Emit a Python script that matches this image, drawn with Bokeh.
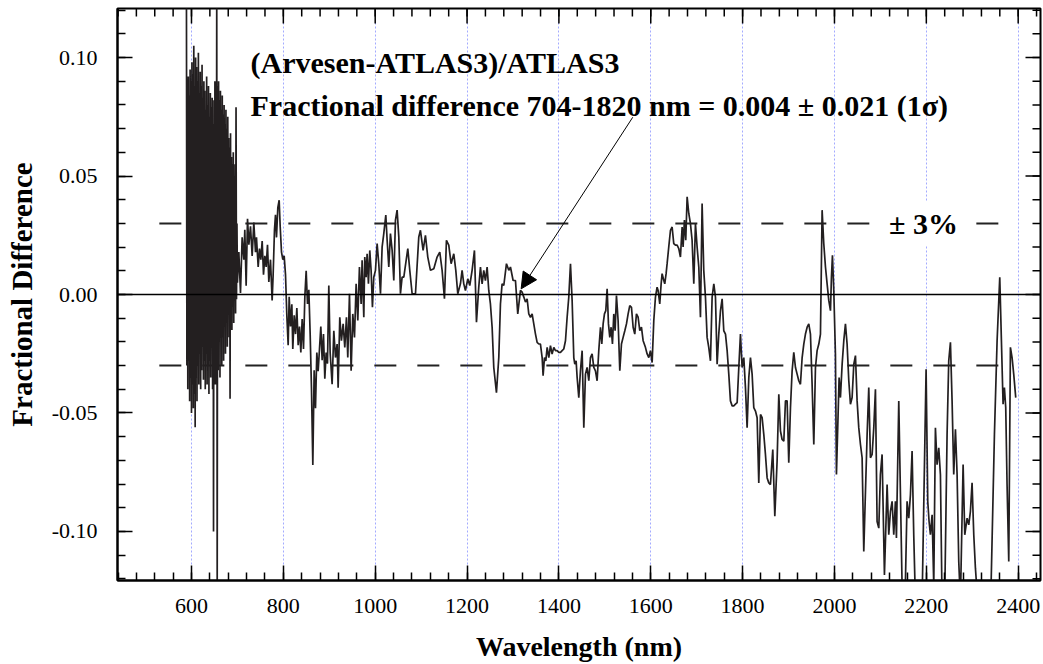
from bokeh.plotting import figure
from bokeh.models import Range1d, FixedTicker, Span, Label, Arrow, NormalHead, NumeralTickFormatter
from bokeh.embed import file_html
from bokeh.resources import INLINE

# ---------------- data ----------------
visible_wl = [589, 590, 591, 592, 593, 594, 595, 596, 597, 598, 599, 600, 601, 602, 603, 604, 605, 606, 607, 608,
              609, 610, 611, 612, 613, 614, 615, 616, 617, 618, 619, 620, 621, 622, 623, 624, 625, 626, 627, 628,
              629, 630, 631, 632, 633, 634, 635, 636, 637, 638, 639, 640, 641, 642, 643, 644, 645, 646, 647, 648,
              649, 650, 651, 652, 653, 654, 655, 656, 657, 658, 659, 660, 661, 662, 663, 664, 665, 666, 667, 668,
              669, 670, 671, 672, 673, 674, 675, 676, 677, 678, 679, 680, 681, 682, 683, 684, 685, 686, 687, 688,
              689, 690, 691, 692, 693, 694, 695, 696, 697, 698, 699, 700]
visible_fd = [0.130, -0.030, 0.088, -0.040, 0.092, -0.028, 0.084, -0.045, 0.095, -0.035, 0.090, -0.050, 0.098, -0.038,
              0.093, -0.048, 0.105, -0.042, 0.088, -0.056, 0.100, -0.035, 0.096, -0.045, 0.090, -0.030, 0.102, -0.038,
              0.085, -0.025, 0.094, -0.040, 0.088, -0.032, 0.097, -0.022, 0.083, -0.036, 0.090, -0.028, 0.086, -0.040,
              0.078, -0.025, 0.092, -0.038, 0.080, -0.030, 0.088, -0.042, 0.075, -0.028, 0.085, -0.035, 0.079, -0.022,
              0.083, -0.040, 0.072, -0.100, 0.082, -0.030, 0.090, -0.038, 0.078, -0.025, 0.130, -0.130, 0.088, -0.032,
              0.090, -0.020, 0.082, -0.035, 0.086, -0.015, 0.078, -0.030, 0.084, -0.018, 0.076, -0.028, 0.080, -0.012,
              0.072, -0.025, 0.078, -0.010, 0.070, -0.022, 0.075, -0.008, 0.066, -0.018, 0.062, -0.044, 0.068, -0.010,
              0.058, -0.015, 0.055, -0.005, 0.060, -0.012, 0.050, 0.000, 0.055, -0.008, 0.079, -0.002, 0.030, 0.005]

nir_wl = [703.1, 706.7, 710.3, 714.0, 716.1, 719.0, 722.0, 724.9, 728.5, 732.1, 735.7, 739.4, 741.5, 745.2, 748.1,
          751.0, 753.9, 756.8, 759.7, 762.6, 765.5, 768.4, 772.0, 775.6, 777.8, 780.7, 782.9, 785.1, 788.0, 790.9,
          793.1, 796.0, 798.9, 801.8, 804.7, 807.6, 810.5, 812.7, 815.6, 818.5, 820.6, 823.6, 826.5, 829.4, 832.3,
          835.2, 838.1, 841.0, 843.9, 846.8, 849.7, 852.6, 855.5, 858.4, 861.3, 864.2, 867.1, 870.0, 872.9, 875.8,
          878.7, 881.6, 884.5, 887.4, 890.3, 893.2, 896.1, 899.0, 901.9,
          906.2, 909.9, 913.5, 917.1, 919.3, 922.9, 926.5, 930.2, 933.8, 937.4, 940.3, 944.0, 947.6, 951.2, 954.9,
          958.5, 962.1, 965.7, 969.4, 971.5, 975.2, 977.3, 980.2, 982.4, 985.3, 988.2, 991.1, 994.0, 996.9, 1000.6,
          1004.2, 1007.8, 1011.5, 1015.1, 1018.7, 1023.1, 1026.0, 1029.6, 1033.2, 1036.9, 1040.5, 1044.1, 1047.7,
          1051.4, 1055.0, 1058.6, 1062.3, 1071.0, 1075.3, 1080.4, 1087.7, 1094.9, 1098.5, 1104.3, 1109.4, 1114.5,
          1120.3, 1127.6, 1134.8, 1140.6, 1145.7, 1150.8, 1155.1, 1160.2, 1165.3, 1171.1, 1175.5, 1179.8, 1185.6,
          1189.2, 1192.9, 1196.5, 1201.6, 1205.9, 1211.0, 1216.1, 1220.5, 1225.5, 1229.2, 1232.8, 1236.4, 1240.0,
          1243.7, 1247.3, 1250.9, 1254.6, 1258.2, 1264.0, 1269.1, 1272.7, 1276.3, 1280.0, 1285.8, 1290.9, 1294.5,
          1300.3, 1305.4, 1310.4, 1316.3]
nir_fd = [0.0179, 0.0006, 0.0241, 0.0147, 0.0273, 0.0037, 0.0320, 0.0210, 0.0288, 0.0163, 0.0304, 0.0179, 0.0241,
          0.0116, 0.0194, 0.0147, 0.0226, 0.0084, 0.0163, 0.0116, 0.0210, 0.0053, 0.0147, -0.0025, 0.0084, 0.0273,
          0.0336, 0.0241, 0.0367, 0.0398, 0.0288, 0.0179, 0.0147, 0.0163, 0.0084, -0.0088, -0.0214, -0.0010, -0.0135,
          -0.0041, -0.0230, -0.0088, -0.0167, -0.0057, -0.0214, -0.0135, -0.0245, -0.0104, -0.0230, -0.0010, 0.0100,
          -0.0040, 0.0020, -0.0167, -0.0400, -0.0720, -0.0320, -0.0480, -0.0245, -0.0324, -0.0230, -0.0135, -0.0277,
          -0.0167, -0.0355, -0.0245, -0.0292, 0.0038, -0.0245,
          -0.0379, -0.0153, -0.0266, -0.0209, -0.0393, -0.0096, -0.0195, -0.0124, -0.0223, -0.0096, -0.0266, 0.0003,
          -0.0322, -0.0082, -0.0181, 0.0045, -0.0110, 0.0116, -0.0040, 0.0144, -0.0096, 0.0158, 0.0073, 0.0172,
          0.0045, 0.0186, 0.0102, -0.0054, 0.0073, 0.0102, 0.0215, 0.0130, 0.0003, 0.0201, 0.0257, 0.0335, 0.0229,
          0.0116, 0.0257, 0.0186, 0.0059, 0.0314, 0.0356, 0.0243, 0.0003, 0.0073, 0.0073, 0.0194, 0.0102, 0.0003,
          0.0003, 0.0243, 0.0271, 0.0186, 0.0250, 0.0158, 0.0102, 0.0109, 0.0158, 0.0179, 0.0102, -0.0018, 0.0229,
          0.0208, 0.0130, 0.0172, 0.0102, 0.0003, 0.0045, 0.0102, 0.0045, 0.0017, 0.0066, 0.0038, 0.0102, 0.0186,
          -0.0117, 0.0031, 0.0116, 0.0045, 0.0102, 0.0059, 0.0116, 0.0017, -0.0040, -0.0138, -0.0308, -0.0414,
          -0.0266, -0.0040, 0.0045, 0.0038, 0.0130, 0.0102, 0.0116, 0.0059, 0.0059, -0.0082, 0.0017]

swir1_wl = [1319.9, 1323.6, 1327.2, 1330.8, 1334.4, 1338.1, 1341.7, 1345.3, 1349.0, 1352.6, 1356.2, 1359.8, 1363.5,
            1365.6, 1368.6, 1371.5, 1374.4, 1378.0, 1381.6, 1385.2, 1388.9, 1392.5, 1396.1, 1399.8, 1403.4, 1407.0,
            1410.6, 1414.3, 1417.9, 1421.5, 1425.2, 1428.8, 1432.4, 1434.6, 1437.5, 1439.7, 1443.3, 1446.9, 1450.6,
            1454.2, 1457.8, 1461.4, 1465.1, 1468.7, 1472.3, 1476.0, 1479.6, 1483.2, 1486.8, 1490.5, 1493.4, 1496.3,
            1499.2, 1502.1, 1505.0, 1507.9, 1510.8, 1513.7, 1516.6, 1519.5, 1522.4, 1525.3, 1528.9, 1532.6, 1536.2,
            1539.8, 1543.5, 1547.1, 1550.7, 1554.3, 1558.0, 1561.6, 1565.2, 1568.8, 1572.5, 1576.1, 1579.7, 1583.4,
            1588.4, 1592.1, 1595.7, 1599.3, 1603.0, 1606.6, 1610.2, 1613.8, 1616.0, 1619.6, 1622.6, 1624.7, 1628.4,
            1630.5, 1633.4, 1635.6, 1639.2, 1642.9, 1646.5, 1650.1, 1653.8, 1657.4, 1661.0, 1664.6, 1668.3, 1670.4,
            1673.3, 1676.2, 1679.2, 1682.8, 1686.4, 1690.0, 1693.7, 1697.3, 1700.9, 1704.6, 1708.2, 1711.8, 1715.4,
            1719.1, 1722.7, 1726.3, 1730.0]
swir1_fd = [0.0010, -0.0011, -0.0032, -0.0018, -0.0082, -0.0096, -0.0082, -0.0124, -0.0167, -0.0202, -0.0209,
            -0.0209, -0.0266, -0.0343, -0.0266, -0.0280, -0.0223, -0.0266, -0.0216, -0.0251, -0.0223, -0.0237,
            -0.0237, -0.0244, -0.0244, -0.0237, -0.0230, -0.0195, -0.0096, -0.0011, 0.0130, -0.0025, -0.0266,
            -0.0294, -0.0280, -0.0350, -0.0435, -0.0322, -0.0237, -0.0562, -0.0336, -0.0308, -0.0364, -0.0266,
            -0.0251, -0.0308, -0.0322, -0.0364, -0.0237, -0.0138, -0.0209, -0.0124, -0.0082, -0.0068, 0.0024,
            -0.0124, -0.0181, -0.0138, -0.0209, -0.0082, -0.0153, -0.0004, -0.0110, -0.0322, -0.0209, -0.0181,
            -0.0153, -0.0124, -0.0082, -0.0047, -0.0054, -0.0138, -0.0167, -0.0082, -0.0096, -0.0153, -0.0138,
            -0.0195, -0.0223, -0.0251, -0.0266, -0.0237, -0.0287, -0.0110, -0.0011, 0.0031, 0.0017, -0.0040, 0.0045,
            0.0088, 0.0059, 0.0045, 0.0088, 0.0130, 0.0201, 0.0271, 0.0285, 0.0215, 0.0208, 0.0208, 0.0194, 0.0158,
            0.0285, 0.0201, 0.0314, 0.0229, 0.0412, 0.0342, 0.0299, 0.0229, 0.0045, 0.0299, 0.0201, 0.0116, -0.0096,
            0.0384, 0.0102, -0.0011, -0.0181, -0.0223, -0.0280]

swir2_wl = [1733.6, 1737.3, 1740.9, 1744.5, 1748.1, 1751.8, 1755.4, 1759.0, 1762.7, 1766.3, 1769.9, 1773.5, 1777.2,
            1780.8, 1784.4, 1788.1, 1791.7, 1795.3, 1798.9, 1802.6, 1806.2, 1809.8, 1813.5, 1817.1, 1820.7, 1824.3,
            1828.0, 1831.6, 1835.2, 1838.9, 1842.5, 1846.1, 1849.7, 1853.4, 1857.0, 1860.6, 1865.7, 1870.1, 1875.1,
            1878.8, 1882.4, 1886.0, 1889.7, 1893.3, 1896.9, 1900.5, 1904.2, 1907.8, 1911.4, 1915.1, 1918.7, 1922.3,
            1925.9, 1929.6, 1933.2, 1936.8, 1940.5, 1944.1, 1947.7, 1951.3, 1955.0, 1958.6, 1962.2, 1965.9, 1969.5,
            1973.1, 1976.7, 1980.4, 1984.0, 1987.6, 1991.3, 1993.4, 1995.6, 1998.5, 2002.1, 2004.3, 2007.9, 2010.1,
            2013.0, 2016.7, 2020.3, 2023.9, 2027.5, 2031.2, 2034.8, 2038.4, 2042.1, 2045.7, 2049.3, 2052.9, 2056.6,
            2060.2, 2063.8, 2067.5, 2071.1, 2074.7, 2078.3, 2082.0, 2085.6, 2089.2]
swir2_fd = [-0.0011, 0.0045, -0.0011, -0.0294, -0.0167, -0.0068, -0.0018, -0.0153, -0.0167, -0.0237, -0.0336,
            -0.0449, -0.0470, -0.0470, -0.0463, -0.0456, -0.0308, -0.0167, -0.0308, -0.0266, -0.0393, -0.0562,
            -0.0350, -0.0266, -0.0336, -0.0477, -0.0492, -0.0520, -0.0795, -0.0506, -0.0520, -0.0590, -0.0675,
            -0.0774, -0.0795, -0.0802, -0.0654, -0.0936, -0.0703, -0.0421, -0.0576, -0.0612, -0.0619, -0.0449,
            -0.0449, -0.0710, -0.0477, -0.0322, -0.0244, -0.0308, -0.0336, -0.0364, -0.0379, -0.0266, -0.0209,
            -0.0167, -0.0138, -0.0124, -0.0167, -0.0379, -0.0633, -0.0308, -0.0237, -0.0209, -0.0167, 0.0356, 0.0215,
            0.0116, 0.0045, -0.0025, -0.0068, 0.0073, 0.0165, 0.0017, -0.0251, -0.0760, -0.0506, -0.0350, -0.0435,
            -0.0294, -0.0195, -0.0124, -0.0209, -0.0364, -0.0463, -0.0435, -0.0294, -0.0258, -0.0449, -0.0562,
            -0.0633, -0.0689, -0.1085, -0.0831, -0.0590, -0.0393, -0.0689, -0.0675, -0.0562, -0.0400]

swir3_wl = [2092.8, 2096.5, 2100.0, 2103.7, 2108.8, 2114.6, 2118.2, 2121.9, 2125.5, 2129.1, 2132.7, 2134.9, 2140.0,
            2147.2, 2150.9, 2154.5, 2158.1, 2161.8, 2165.4, 2169.0, 2172.6, 2176.3, 2183.5, 2190.8, 2199.5, 2203.1,
            2206.0, 2208.9, 2212.6, 2216.2, 2219.8, 2223.4, 2227.1, 2230.7, 2234.3, 2239.4, 2245.2, 2248.8, 2252.5,
            2256.1, 2259.7, 2263.4, 2267.0, 2270.6, 2274.2, 2280.1, 2283.7, 2288.8, 2292.4, 2296.0, 2299.6, 2303.3,
            2306.9, 2312.0, 2321.4, 2332.3, 2341.0, 2348.3, 2354.1, 2359.9, 2363.5, 2367.1, 2370.0, 2372.9, 2375.8,
            2379.5, 2383.1, 2386.7, 2390.3, 2394.7]
swir3_fd = [-0.0958, -0.0986, -0.0760, -0.0675, -0.1184, -0.0802, -0.1014, -0.0915, -0.0873, -0.1014, -0.0873,
            -0.1028, -0.0449, -0.1226, -0.1370, -0.1210, -0.0873, -0.0944, -0.0845, -0.0661, -0.1014, -0.1297,
            -0.1370, -0.1297, -0.0315, -0.0873, -0.0958, -0.1014, -0.0930, -0.1226, -0.0562, -0.0718, -0.0647,
            -0.0760, -0.1297, -0.1370, -0.0590, -0.0280, -0.0202, -0.0449, -0.0760, -0.0569, -0.0760, -0.1127,
            -0.1297, -0.0718, -0.1014, -0.0944, -0.0972, -0.0915, -0.0795, -0.1014, -0.1155, -0.1297, -0.1370,
            -0.1370, -0.1226, -0.0590, -0.0195, 0.0073, -0.0195, -0.0463, -0.0393, -0.0477, -0.0802, -0.1127,
            -0.0223, -0.0266, -0.0336, -0.0435]

wavelength_nm = visible_wl + nir_wl + swir1_wl + swir2_wl + swir3_wl
fractional_difference = visible_fd + nir_fd + swir1_fd + swir2_fd + swir3_fd

x_major_ticks = [600, 800, 1000, 1200, 1400, 1600, 1800, 2000, 2200, 2400]
x_minor_ticks = list(range(440, 2441, 40))
y_major_ticks = [-0.10, -0.05, 0.0, 0.05, 0.10]
y_minor_ticks = [round(-0.12 + 0.01 * i, 2) for i in range(25)]
limit_level = 0.03
limit_span_nm = [530, 2400]
note_line1 = "(Arvesen-ATLAS3)/ATLAS3"
note_line2 = "Fractional difference 704-1820 nm = 0.004 \u00b1 0.021 (1\u03c3)"
limit_text = "\u00b1 3%"
x_title = "Wavelength (nm)"
y_title = "Fractional Difference"
arrow_from = (1560.8, 0.0748)
arrow_to = (1317.8, 0.0024)

FONT = "Liberation Serif"
X0, X1 = 438.9, 2448.6
Y0, Y1 = -0.1207, 0.1207

# ---------------- figure ----------------
W, H = 1043, 664
ML, MR, MT, MB = 117, 3, 8, 84
p = figure(width=W, height=H, output_backend="svg", toolbar_location=None,
           x_range=Range1d(X0, X1), y_range=Range1d(Y0, Y1),
           min_border_left=ML, min_border_right=MR, min_border_top=MT, min_border_bottom=MB,
           background_fill_color="white", border_fill_color="white")
p.outline_line_color = "black"
p.outline_line_width = 2

px_per_x = (W - ML - MR) / (X1 - X0)
px_per_y = (H - MT - MB) / (Y1 - Y0)

xt = FixedTicker(ticks=x_major_ticks, minor_ticks=x_minor_ticks)
yt = FixedTicker(ticks=y_major_ticks, minor_ticks=y_minor_ticks)

MAJ, MIN = 15, 8
for ax, tk in ((p.below[0], xt), (p.left[0], yt)):
    ax.ticker = tk
    ax.axis_line_width = 2
    ax.axis_line_color = "black"
    ax.major_tick_in = MAJ
    ax.major_tick_out = 0
    ax.minor_tick_in = MIN
    ax.minor_tick_out = 0
    ax.major_tick_line_width = 1.5
    ax.minor_tick_line_width = 1.5
    ax.major_tick_line_color = "black"
    ax.minor_tick_line_color = "black"
    ax.major_label_text_font = FONT
    ax.major_label_text_font_size = "22px"
    ax.major_label_text_color = "black"
    ax.axis_label_text_font = FONT
    ax.axis_label_text_font_style = "bold"
    ax.axis_label_text_color = "black"

xb = p.below[0]
xb.major_label_standoff = 18
xb.axis_label = x_title
xb.axis_label_text_font_size = "28px"
xb.axis_label_standoff = 15

yl = p.left[0]
yl.major_label_standoff = 20
yl.formatter = NumeralTickFormatter(format="0.00")
yl.axis_label = y_title
yl.axis_label_text_font_size = "29px"
yl.axis_label_standoff = 11

# ticks on the top and right frame edges (inward), from the same tick lists
top_maj_len = MAJ / px_per_y
top_min_len = MIN / px_per_y
p.segment(x0=x_major_ticks, y0=[Y1] * len(x_major_ticks), x1=x_major_ticks,
          y1=[Y1 - top_maj_len] * len(x_major_ticks), line_color="black", line_width=1.5)
p.segment(x0=x_minor_ticks, y0=[Y1] * len(x_minor_ticks), x1=x_minor_ticks,
          y1=[Y1 - top_min_len] * len(x_minor_ticks), line_color="black", line_width=1.5)
r_maj_len = MAJ / px_per_x
r_min_len = MIN / px_per_x
p.segment(x0=[X1] * len(y_major_ticks), y0=y_major_ticks, x1=[X1 - r_maj_len] * len(y_major_ticks),
          y1=y_major_ticks, line_color="black", line_width=1.5)
p.segment(x0=[X1] * len(y_minor_ticks), y0=y_minor_ticks, x1=[X1 - r_min_len] * len(y_minor_ticks),
          y1=y_minor_ticks, line_color="black", line_width=1.5)

p.xgrid.ticker = FixedTicker(ticks=x_major_ticks)
p.xgrid.grid_line_color = "#a3aaff"
p.xgrid.grid_line_dash = "2 2"
p.xgrid.grid_line_width = 1
p.ygrid.grid_line_color = None

# reference lines
p.line(limit_span_nm, [limit_level, limit_level], line_color="#222222", line_width=2, line_dash="22 21")
p.line(limit_span_nm, [-limit_level, -limit_level], line_color="#222222", line_width=2, line_dash="22 21")
p.add_layout(Span(location=0, dimension="width", line_color="black", line_width=1.5))

# data
p.line(wavelength_nm, fractional_difference, line_color="#231f20", line_width=1.7)

# annotations
NOTE_X = 728.5
p.add_layout(Label(x=NOTE_X, y=0.0979, text=note_line1, text_font=FONT, text_font_style="bold",
                   text_font_size="30px", text_color="black", text_baseline="alphabetic"))
p.add_layout(Label(x=NOTE_X, y=0.0797, text=note_line2, text_font=FONT, text_font_style="bold",
                   text_font_size="30px", text_color="black", text_baseline="alphabetic"))
p.add_layout(Label(x=2193.8, y=limit_level, text=limit_text, text_font=FONT, text_font_style="bold",
                   text_font_size="30px", text_color="black", text_align="center", text_baseline="middle",
                   background_fill_color="white", padding=6))
p.add_layout(Arrow(end=NormalHead(size=16, fill_color="black", line_color="black", line_width=1),
                   x_start=arrow_from[0], y_start=arrow_from[1], x_end=arrow_to[0], y_end=arrow_to[1],
                   line_color="black", line_width=1))

open("out.html", "w").write(file_html(p, INLINE))
